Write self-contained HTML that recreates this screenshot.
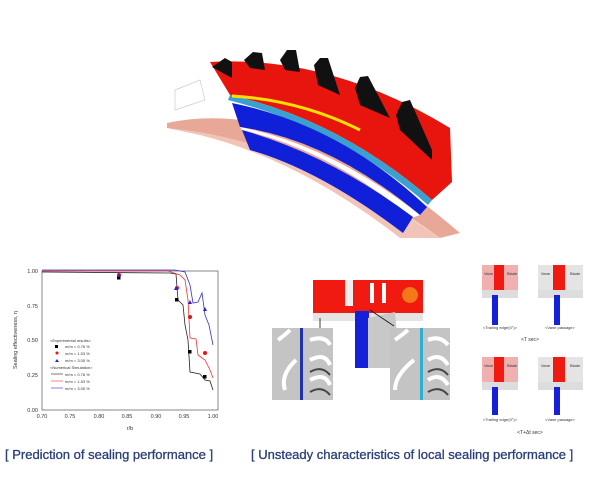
<!DOCTYPE html>
<html><head><meta charset="utf-8"><style>
body{margin:0;background:#fff;width:600px;height:473px;overflow:hidden;font-family:"Liberation Sans",sans-serif}
</style></head><body>
<svg width="600" height="473" viewBox="0 0 600 473" xmlns="http://www.w3.org/2000/svg" font-family="Liberation Sans, sans-serif">
<!-- top 3D figure -->
<path d="M167,123 Q300,95 460,233 L440,238 Q320,150 167,128 Z" fill="#e8a898"/>
<path d="M167,128 Q300,140 440,238 L400,238 Q300,160 200,135 Z" fill="#f2c4b8"/>
<path d="M175,90 L200,80 L205,100 L175,110 Z" fill="none" stroke="#ccc" stroke-width="0.7"/>
<path d="M210,62 Q330,55 450,128 L452,182 L432,200 Q340,120 230,95 Z" fill="#e8140e"/>
<path d="M230,95 Q340,120 432,200 L428,205 Q340,128 228,100 Z" fill="#3aa0d0"/>
<path d="M232,96 Q300,100 360,130" fill="none" stroke="#ffe000" stroke-width="3"/>
<path d="M232,103 Q340,125 427,207 L420,215 Q330,140 240,127 Z" fill="#1020d8"/>
<path d="M240,127 Q330,145 420,215 L412,218 Q330,150 242,130 Z" fill="#fff"/>
<path d="M242,130 Q330,155 413,217 L403,233 Q320,170 250,150 Z" fill="#1020d8"/>
<g fill="#111">
<path d="M212,67 L225,58 L232,62 L232,78 Z"/>
<path d="M244,60 L253,52 L262,53 L265,70 L250,68 Z"/>
<path d="M280,60 L287,50 L296,50 L300,72 L285,70 Z"/>
<path d="M314,65 L320,58 L328,58 L340,95 L318,85 Z"/>
<path d="M355,88 L360,77 L368,76 L390,118 L360,105 Z"/>
<path d="M396,115 L402,102 L410,100 L432,150 L432,160 L400,130 Z"/>
</g>
<!-- chart -->
<g font-size="5.5" fill="#333">
<rect x="42" y="271" width="176" height="139" fill="none" stroke="#555" stroke-width="0.7"/>
<text x="38" y="273" text-anchor="end">1.00</text>
<text x="38" y="308" text-anchor="end">0.75</text>
<text x="38" y="342" text-anchor="end">0.50</text>
<text x="38" y="377" text-anchor="end">0.25</text>
<text x="38" y="412" text-anchor="end">0.00</text>
<text x="42" y="418" text-anchor="middle">0.70</text>
<text x="70" y="418" text-anchor="middle">0.75</text>
<text x="99" y="418" text-anchor="middle">0.80</text>
<text x="127" y="418" text-anchor="middle">0.85</text>
<text x="156" y="418" text-anchor="middle">0.90</text>
<text x="184" y="418" text-anchor="middle">0.95</text>
<text x="213" y="418" text-anchor="middle">1.00</text>
<text x="130" y="430" text-anchor="middle">r/b</text>
<text transform="translate(17,340) rotate(-90)" text-anchor="middle">Sealing effectiveness, η</text>
<path d="M42,272 L170,273 L176,274 L178,300 L183,305 L185,325 L188,340 L190,372 L200,374 L205,380 L210,381 L213,390" fill="none" stroke="#222" stroke-width="0.8"/>
<path d="M42,271 L168,271 L180,275 L185,280 L188,300 L190,338 L196,339 L198,355 L205,360 L210,370 L213,378" fill="none" stroke="#e33" stroke-width="0.8"/>
<path d="M42,270 L175,270 L185,272 L190,285 L193,303 L198,302 L202,293 L205,315 L209,325 L213,345" fill="none" stroke="#33c" stroke-width="0.8"/>
<rect x="117" y="276" width="3.5" height="3.5" fill="#000"/><rect x="175" y="298" width="3.5" height="3.5" fill="#000"/><rect x="188" y="350" width="3.5" height="3.5" fill="#000"/><rect x="203" y="375" width="3.5" height="3.5" fill="#000"/>
<circle cx="119" cy="275" r="2" fill="#e11"/><circle cx="177" cy="288" r="2" fill="#e11"/><circle cx="190" cy="317" r="2" fill="#e11"/><circle cx="205" cy="353" r="2" fill="#e11"/>
<path d="M117,277 l2,-3 l2,3z M174,290 l2,-4 l2,4z M188,304 l2,-4 l2,4z M203,311 l2,-4 l2,4z" fill="#22d"/>
<g font-size="4">
<text x="50" y="342">&lt;Experimental results&gt;</text>
<rect x="55" y="345" width="3" height="3" fill="#000"/><text x="65" y="348">m/m = 0.76 %</text>
<circle cx="57" cy="353" r="1.5" fill="#e11"/><text x="65" y="355">m/m = 1.53 %</text>
<path d="M55,362 l2,-3 l2,3z" fill="#22d"/><text x="65" y="362">m/m = 3.05 %</text>
<text x="50" y="369">&lt;Numerical Simulation&gt;</text>
<line x1="51" y1="374" x2="63" y2="374" stroke="#222" stroke-width="0.6"/><text x="65" y="376">m/m = 0.76 %</text>
<line x1="51" y1="381" x2="63" y2="381" stroke="#e33" stroke-width="0.6"/><text x="65" y="383">m/m = 1.53 %</text>
<line x1="51" y1="388" x2="63" y2="388" stroke="#33c" stroke-width="0.6"/><text x="65" y="390">m/m = 3.05 %</text>
</g></g>
<text x="5" y="459" font-size="13" fill="#2a3f7a" stroke="#2a3f7a" stroke-width="0.3">[ Prediction of sealing performance ]</text>
<text x="251" y="459" font-size="13" fill="#2a3f7a" stroke="#2a3f7a" stroke-width="0.3">[ Unsteady characteristics of local sealing performance ]</text>
<!-- center CFD -->
<rect x="313" y="280" width="110" height="33" fill="#f01a10"/>
<rect x="345" y="280" width="8" height="26" fill="#eee"/><rect x="370" y="283" width="4" height="20" fill="#fff"/><rect x="382" y="283" width="4" height="20" fill="#fff"/>
<circle cx="410" cy="295" r="8" fill="#f5a020" opacity="0.7"/>
<rect x="313" y="313" width="110" height="8" fill="#e4e4e4"/>
<rect x="355" y="311" width="14" height="57" fill="#1520d8"/>
<path d="M368,318 L395,312 L400,368 L368,368 Z" fill="#c8c8c8"/>
<rect x="272" y="328" width="61" height="72" fill="#c4c4c4"/>
<rect x="390" y="328" width="60" height="72" fill="#c4c4c4"/>
<g fill="none" stroke="#fff" stroke-width="4">
<path d="M310,340 Q325,335 330,345"/><path d="M310,360 Q325,352 330,365"/><path d="M310,380 Q325,372 330,385"/>
<path d="M278,340 Q285,335 290,330"/><path d="M285,390 Q280,375 296,360"/>
<path d="M428,340 Q440,335 448,345"/><path d="M428,360 Q440,352 448,365"/><path d="M428,380 Q440,372 448,385"/>
<path d="M395,340 Q402,335 408,330"/><path d="M395,390 Q395,375 414,360"/>
</g>
<g fill="none" stroke="#444" stroke-width="2">
<path d="M310,372 Q322,365 330,375"/><path d="M310,392 Q322,385 330,395"/>
<path d="M428,372 Q440,365 448,375"/><path d="M428,392 Q440,385 448,395"/>
</g>
<rect x="300" y="328" width="3" height="72" fill="#2030b0"/>
<rect x="420" y="328" width="3" height="72" fill="#30b0d0"/>
<line x1="320" y1="318" x2="320" y2="328" stroke="#111" stroke-width="0.8"/>
<line x1="370" y1="310" x2="394" y2="326" stroke="#111" stroke-width="0.8"/>
<!-- small panels -->
<g font-size="4" fill="#333">
<g transform="translate(482,265)">
<rect width="36" height="25" fill="#f0b0b0"/><rect x="12" width="10" height="25" fill="#f01a10"/><rect y="25" width="36" height="8" fill="#ddd"/><rect x="10" y="30" width="6" height="30" fill="#1520d8"/>
<text x="2" y="10">Vane</text><text x="25" y="10">Blade</text>
</g>
<g transform="translate(538,265)">
<rect width="45" height="25" fill="#e4e4e4"/><rect x="15" width="12" height="25" fill="#f01a10"/><rect y="25" width="45" height="8" fill="#ddd"/><rect x="16" y="30" width="6" height="30" fill="#1520d8"/>
<text x="3" y="10">Vane</text><text x="32" y="10">Blade</text>
</g>
<text x="500" y="329" text-anchor="middle">&lt;Trailing edge(0°)&gt;</text>
<text x="560" y="329" text-anchor="middle">&lt;Vane passage&gt;</text>
<text x="530" y="341" text-anchor="middle" font-size="5">&lt;T sec&gt;</text>
<g transform="translate(482,357)">
<rect width="36" height="25" fill="#f0b0b0"/><rect x="12" width="10" height="25" fill="#f01a10"/><rect y="25" width="36" height="8" fill="#ddd"/><rect x="10" y="30" width="6" height="28" fill="#1520d8"/>
<text x="2" y="10">Vane</text><text x="25" y="10">Blade</text>
</g>
<g transform="translate(538,357)">
<rect width="45" height="25" fill="#e4e4e4"/><rect x="15" width="12" height="25" fill="#f01a10"/><rect y="25" width="45" height="8" fill="#ddd"/><rect x="16" y="30" width="6" height="28" fill="#1520d8"/>
<text x="3" y="10">Vane</text><text x="32" y="10">Blade</text>
</g>
<text x="500" y="421" text-anchor="middle">&lt;Trailing edge(0°)&gt;</text>
<text x="560" y="421" text-anchor="middle">&lt;Vane passage&gt;</text>
<text x="530" y="434" text-anchor="middle" font-size="5">&lt;T+Δt sec&gt;</text>
</g>
</svg>
</body></html>
